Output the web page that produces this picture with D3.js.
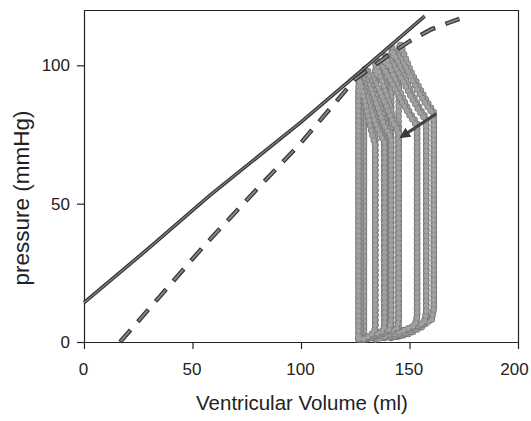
<!DOCTYPE html>
<html>
<head>
<meta charset="utf-8">
<script src="https://cdn.jsdelivr.net/npm/d3@7"></script>
<style>
body { margin: 0; background: #fff; }
text { font-family: "Liberation Sans", Arial, sans-serif; fill: #222; }
</style>
</head>
<body>
<script>
/*Values*/
var xTicks = [0, 50, 100, 150, 200]
var yTicks = [0, 50, 100]

/*solid line (end systolic relation)*/
var solidVolume = [0, 30, 58, 100, 130, 157]
var solidPressure = [14.2, 34, 53, 79.5, 99.5, 117.8]

/*dashed line*/
var dashVolume = [16.6, 35, 55, 80, 100, 125, 140, 150, 160, 168, 173]
var dashPressure = [0, 16.5, 34.5, 55.5, 72, 95, 103.5, 108.7, 113, 115.4, 116.8]

/*pressure volume loops, biggest first
  each: start of filling, bottom, right side, ejection, end systole, left side*/
var loopVolumes = [
	[145, 150, 156, 160.2, 161.2, 161.2, 158, 154.5, 150.5, 147.5, 145.5, 145],
	[141.5, 147, 153, 160.2, 161.2, 161.2, 157.5, 153.5, 149.5, 145.5, 142, 141.5],
	[141.5, 146.5, 152, 156.8, 157.7, 157.7, 155, 151, 147.5, 144.5, 142, 141.5],
	[138.5, 143.5, 149.5, 156.8, 157.7, 157.7, 154.5, 150.5, 146.5, 142.5, 139, 138.5],
	[138.5, 142.5, 147.5, 152.5, 153.5, 153.5, 150, 146.5, 143, 140.5, 139, 138.5],
	[134.2, 139, 145, 152.5, 153.5, 153.5, 150, 146, 142, 138, 134.8, 134.2],
	[134.2, 137.5, 141, 144.2, 145, 145, 142.5, 140, 137, 135, 134.5, 134.2],
	[129, 133, 138, 144.2, 145, 145, 142, 139, 135.5, 132, 129.5, 129],
	[129, 132.5, 136.5, 140.7, 141.5, 141.5, 139, 136, 133, 130.5, 129.5, 129],
	[127.5, 131, 135.5, 140.7, 141.5, 141.5, 138.5, 135.5, 132.5, 129.5, 128, 127.5],
	[127.5, 130.5, 134, 137.8, 138.5, 138.5, 136, 133, 130.5, 128.5, 128, 127.5],
	[126.5, 129.5, 133, 137.8, 138.5, 138.5, 135.5, 132.5, 130, 127.5, 126.8, 126.5],
	[126.5, 128.5, 131, 133.6, 134.2, 134.2, 132.5, 130.5, 128.5, 127, 126.8, 126.5]
]
var loopPressures = [
	[2, 3, 5.5, 8.5, 12.5, 83, 87, 92, 98, 104, 108, 102],
	[1.5, 2.5, 5, 8, 12, 82, 86, 91.5, 97.5, 103, 106.5, 100.5],
	[1.5, 2.5, 4.5, 7, 10.5, 81, 84, 90, 96, 101.5, 105.5, 99.5],
	[1.5, 2, 4.5, 7, 10.5, 80, 83.5, 89, 95, 100.5, 104, 98],
	[1.5, 2, 3.5, 6, 9, 79, 83, 89, 95.5, 100.5, 103, 97],
	[1, 2, 3.5, 6, 9, 78, 82, 87.5, 93.5, 99, 102, 95.5],
	[1, 1.5, 3, 5, 7.5, 77, 81, 88, 95, 100, 101.5, 95],
	[1, 1.5, 3, 5, 7.5, 76, 80, 86, 92, 97, 99, 93],
	[1, 1.5, 2.5, 4.5, 7, 75, 79, 86, 92, 97, 98.5, 92],
	[1, 1.5, 2.5, 4.5, 7, 74, 78, 84.5, 91, 95.5, 97.5, 91],
	[1, 1, 2.5, 4, 6, 73, 77, 84, 90.5, 95.5, 97, 90.5],
	[1, 1, 2.5, 4, 6, 72, 76.5, 83, 89.5, 94.5, 96.5, 90],
	[1, 1, 2, 3.5, 5, 71, 76, 83, 90, 94.5, 96, 90]
]

/*arrow showing which way the loops go*/
var arrowVolume = [162.3, 147]
var arrowPressure = [82.5, 74.5]

var width = 531, height = 421
var margin = {top: 10, right: 13, bottom: 79, left: 84}

var svg = d3.select("body").append("svg")
			.attr("width", width)
			.attr("height", height)

var xScale = d3.scaleLinear().domain([0, 200]).range([margin.left, width - margin.right])
var yScale = d3.scaleLinear().domain([0, 120]).range([height - margin.bottom, margin.top])

function pairUp(vols, pres){
	return vols.map(function(v, i){ return [v, pres[i]] })
}

var line = d3.line()
			.x(function(d){ return xScale(d[0]) })
			.y(function(d){ return yScale(d[1]) })

var closedLine = d3.line()
			.x(function(d){ return xScale(d[0]) })
			.y(function(d){ return yScale(d[1]) })
			.curve(d3.curveLinearClosed)

/*frame: top and right side*/
svg.append("path")
	.attr("d", "M" + xScale(0) + "," + (yScale(120) + 0.5) + "H" + (xScale(200) + 0.5) + "V" + yScale(0))
	.attr("fill", "none")
	.attr("stroke", "#222")
	.attr("stroke-width", 1.2)

/*axes*/
var xAxis = d3.axisBottom(xScale).tickValues(xTicks).tickSize(7).tickSizeOuter(0).tickPadding(14)
var yAxis = d3.axisLeft(yScale).tickValues(yTicks).tickSize(7).tickSizeOuter(0).tickPadding(7)

var gx = svg.append("g")
	.attr("transform", "translate(0," + yScale(0) + ")")
	.call(xAxis)
var gy = svg.append("g")
	.attr("transform", "translate(" + xScale(0) + ",0)")
	.call(yAxis)

svg.selectAll(".domain, .tick line").attr("stroke", "#222").attr("stroke-width", 1.2)
svg.selectAll(".tick text").attr("font-size", 17).attr("font-family", null).attr("fill", "#222")
gx.selectAll(".tick text").attr("dx", function(d){ return d == 200 ? -4 : -1 })

/*axis titles*/
svg.append("text")
	.attr("x", 302)
	.attr("y", 410)
	.attr("text-anchor", "middle")
	.attr("font-size", 20.5)
	.text("Ventricular Volume (ml)")

svg.append("text")
	.attr("transform", "translate(29,198) rotate(-90)")
	.attr("text-anchor", "middle")
	.attr("font-size", 22.5)
	.text("pressure (mmHg)")

/*loops drawn as chains of grey dots*/
var loops = svg.append("g").attr("class", "loops")

loopVolumes.forEach(function(vols, i){
	var pts = pairUp(vols, loopPressures[i])
	loops.append("path")
		.attr("d", closedLine(pts))
		.attr("fill", "none")
		.attr("stroke", "#7a7a7a")
		.attr("stroke-width", 6.6)
		.attr("stroke-linecap", "round")
		.attr("stroke-dasharray", "0 5")
	loops.append("path")
		.attr("d", closedLine(pts))
		.attr("fill", "none")
		.attr("stroke", "#a0a0a0")
		.attr("stroke-width", 5)
		.attr("stroke-linecap", "round")
		.attr("stroke-dasharray", "0 5")
})

/*solid line*/
var solidPts = pairUp(solidVolume, solidPressure)
svg.append("path")
	.attr("d", line(solidPts))
	.attr("fill", "none")
	.attr("stroke", "#333")
	.attr("stroke-width", 3.6)
svg.append("path")
	.attr("d", line(solidPts))
	.attr("fill", "none")
	.attr("stroke", "#808080")
	.attr("stroke-width", 1.3)

/*dashed line*/
var dashPts = pairUp(dashVolume, dashPressure)
svg.append("path")
	.attr("d", line(dashPts))
	.attr("fill", "none")
	.attr("stroke", "#333")
	.attr("stroke-width", 4.4)
	.attr("stroke-dasharray", "16 11")
svg.append("path")
	.attr("d", line(dashPts))
	.attr("fill", "none")
	.attr("stroke", "#858585")
	.attr("stroke-width", 2)
	.attr("stroke-dasharray", "14 13")
	.attr("stroke-dashoffset", -1)

/*arrow*/
svg.append("defs").append("marker")
	.attr("id", "head")
	.attr("viewBox", "0 0 10 10")
	.attr("refX", 6)
	.attr("refY", 5)
	.attr("markerWidth", 3.4)
	.attr("markerHeight", 3.4)
	.attr("orient", "auto")
	.append("path")
		.attr("d", "M0,0L10,5L0,10z")
		.attr("fill", "#3a3a3a")

svg.append("path")
	.attr("d", line(pairUp(arrowVolume, arrowPressure)))
	.attr("fill", "none")
	.attr("stroke", "#444")
	.attr("stroke-width", 3.2)
	.attr("marker-end", "url(#head)")
</script>
</body>
</html>
